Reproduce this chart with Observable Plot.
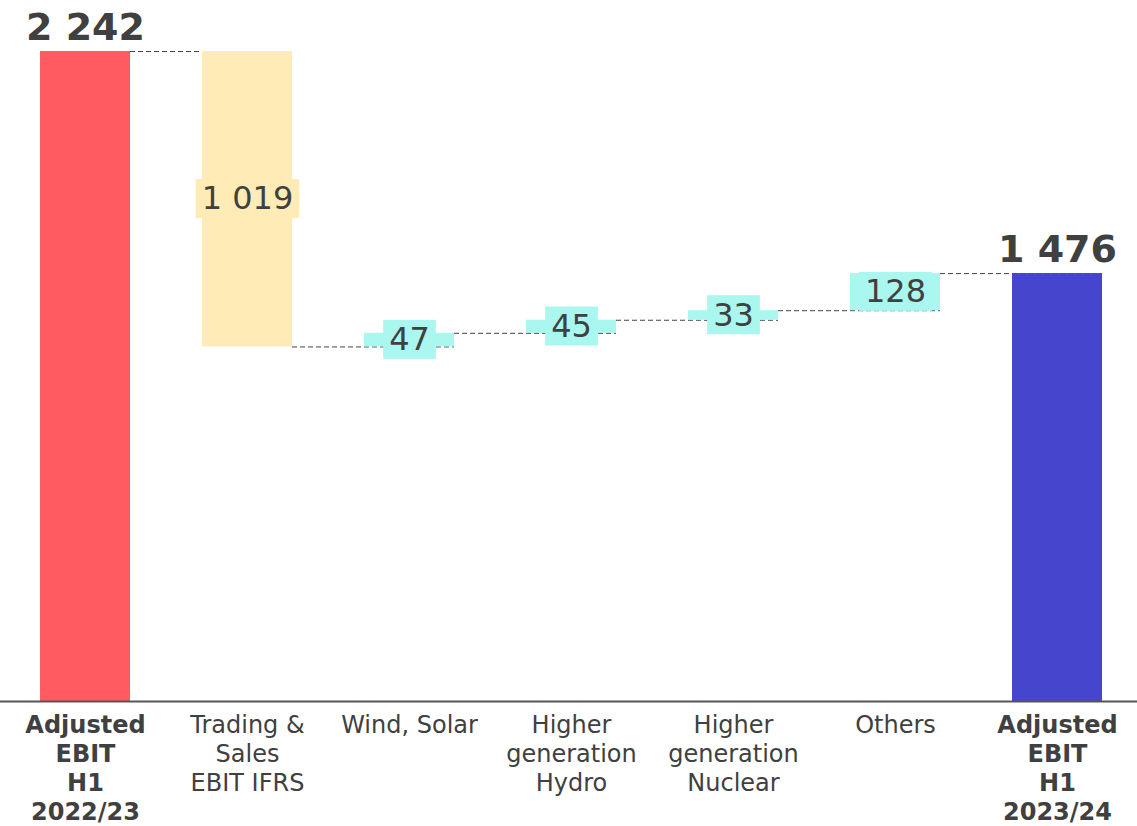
<!DOCTYPE html>
<html>
<head>
<meta charset="utf-8">
<script src="https://cdn.jsdelivr.net/npm/d3@7"></script>
<script src="https://cdn.jsdelivr.net/npm/@observablehq/plot@0.6"></script>
<style>
  html, body { margin: 0; padding: 0; background: #fff; overflow: hidden; }
  #chart { width: 1137px; height: 826px; }
</style>
</head>
<body>
<div id="chart"></div>
<script>
// Adjusted EBIT bridge, H1 2022/23 to H1 2023/24
const categories = [
  "Adjusted\nEBIT\nH1\n2022/23",
  "Trading &\nSales\nEBIT IFRS",
  "Wind, Solar",
  "Higher\ngeneration\nHydro",
  "Higher\ngeneration\nNuclear",
  "Others",
  "Adjusted\nEBIT\nH1\n2023/24"
];
const values = [2242, -1019, 47, 45, 33, 128, 1476];
const kinds = ["start", "decrease", "increase", "increase", "increase", "increase", "end"];

const palette = {
  start: "#FF5B61",
  decrease: "#FFEBB5",
  increase: "#A9F7EF",
  end: "#4545CD"
};
const textColor = "#404040";
const fmt = d3.formatLocale({thousands: " ", grouping: [3], decimal: ","}).format(",d");

// Running totals: totals stand on zero, changes float from the previous level
let level = 0;
const steps = categories.map((category, i) => {
  const kind = kinds[i];
  let y1, y2;
  if (kind === "start" || kind === "end") {
    y1 = 0; y2 = values[i]; level = values[i];
  } else {
    y1 = level; y2 = level + values[i]; level = y2;
  }
  return {category, value: values[i], kind, y1, y2, end: level, color: palette[kind]};
});

const totals = steps.filter(d => d.kind === "start" || d.kind === "end");
const changes = steps.filter(d => d.kind !== "start" && d.kind !== "end");
const connectors = steps.slice(0, -1).map((d, i) => ({
  from: d.category, to: steps[i + 1].category, level: d.end
}));

function bandwidthOf(scales) {
  if (scales.scales && scales.scales.x && scales.scales.x.bandwidth != null) return scales.scales.x.bandwidth;
  if (scales.x && typeof scales.x.bandwidth === "function") return scales.x.bandwidth();
  return 0;
}

const boldCats = new Set([categories[0], categories[categories.length - 1]]);

const chart = Plot.plot({
  width: 1137,
  height: 826,
  marginTop: 51,
  marginBottom: 125,
  marginLeft: 4,
  marginRight: 0,
  x: {domain: categories, range: [4, 1138], paddingInner: 0.444, paddingOuter: 0.222, axis: null},
  y: {domain: [0, 2242], axis: null},
  color: {type: "identity"},
  style: {fontFamily: "'DejaVu Sans', Verdana, sans-serif", background: "white", color: textColor},
  marks: [
    // dashed connectors from the right edge of one bar to the left edge of the next
    Plot.ruleY(connectors, {
      x1: "from", x2: "to", y: "level",
      stroke: "#444", strokeWidth: 1, strokeDasharray: "5,3",
      render(index, scales, vals, dims, ctx, next) {
        const bw = bandwidthOf(scales);
        const X1 = Array.from(vals.x1, v => v + bw);
        return next(index, scales, {...vals, x1: X1}, dims, ctx);
      }
    }),
    Plot.barY(steps, {x: "category", y1: "y1", y2: "y2", fill: "color"}),
    Plot.ruleY([0], {stroke: "#555", strokeWidth: 2, insetLeft: -4}),
    // totals: bold values above the bars
    Plot.text(totals, {
      x: "category", y: "y2", text: d => fmt(d.value),
      dy: -12, lineAnchor: "bottom",
      fontSize: 38, fontWeight: "bold", fill: textColor
    }),
    // changes: value in a box centred on the bar
    Plot.text(changes, {
      x: "category", y: d => (d.y1 + d.y2) / 2, text: d => fmt(Math.abs(d.value)),
      fontSize: 32, fill: textColor,
      render(index, scales, vals, dims, ctx, next) {
        const g = next(index, scales, vals, dims, ctx);
        g.setAttribute("class", "step-label");
        return g;
      }
    }),
    // category labels under the axis
    Plot.text(categories.filter(c => !boldCats.has(c)), {
      x: d => d, frameAnchor: "bottom", dy: 11, lineAnchor: "top",
      fontSize: 24, lineHeight: 1.21, fill: textColor
    }),
    Plot.text(categories.filter(c => boldCats.has(c)), {
      x: d => d, frameAnchor: "bottom", dy: 11, lineAnchor: "top",
      fontSize: 24, lineHeight: 1.21, fontWeight: "bold", fill: textColor
    })
  ]
});

document.getElementById("chart").append(chart);

// Boxes behind the change labels, in the colour of their bar
const labelGroup = chart.querySelector("g.step-label");
if (labelGroup) {
  const texts = Array.from(labelGroup.querySelectorAll("text"));
  texts.forEach((t, i) => {
    const box = t.getBBox();
    const padX = 6, boxH = 39;
    const rect = document.createElementNS("http://www.w3.org/2000/svg", "rect");
    rect.setAttribute("x", box.x - padX);
    rect.setAttribute("y", box.y + box.height / 2 - boxH / 2);
    rect.setAttribute("width", box.width + 2 * padX);
    rect.setAttribute("height", boxH);
    rect.setAttribute("fill", changes[i].color);
    const tr = t.getAttribute("transform");
    if (tr) rect.setAttribute("transform", tr);
    labelGroup.insertBefore(rect, t);
  });
}
</script>
</body>
</html>
